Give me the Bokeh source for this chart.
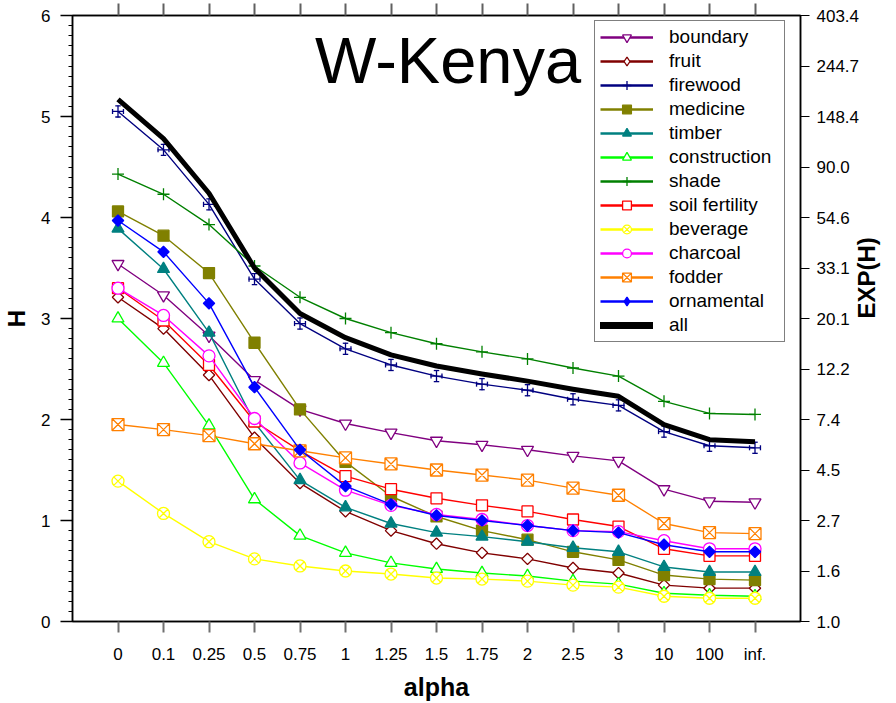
import numpy as np
from bokeh.plotting import figure
from bokeh.models import (LinearAxis, FixedTicker, SingleIntervalTicker, CustomJSTickFormatter,
                          Label, Legend, LegendItem, ColumnDataSource)
from bokeh.embed import file_html
from bokeh.resources import INLINE

categories = ["0", "0.1", "0.25", "0.5", "0.75", "1", "1.25", "1.5", "1.75", "2",
              "2.5", "3", "10", "100", "inf."]
exp_ticks = [0, 0.5, 1, 1.5, 2, 2.5, 3, 3.5, 4, 4.5, 5, 5.5, 6]
exp_labels = ["1.0", "1.6", "2.7", "4.5", "7.4", "12.2", "20.1", "33.1", "54.6",
              "90.0", "148.4", "244.7", "403.4"]

boundary = [3.54, 3.23, 2.83, 2.39, 2.10, 1.96, 1.87, 1.79, 1.75, 1.70, 1.64, 1.59, 1.31, 1.19, 1.18]
fruit = [3.21, 2.90, 2.44, 1.82, 1.37, 1.09, 0.90, 0.77, 0.68, 0.62, 0.53, 0.48, 0.36, 0.33, 0.33]
firewood = [5.05, 4.67, 4.13, 3.39, 2.95, 2.70, 2.54, 2.43, 2.35, 2.29, 2.20, 2.14, 1.88, 1.74, 1.72]
medicine = [4.06, 3.82, 3.45, 2.76, 2.10, 1.58, 1.24, 1.04, 0.90, 0.81, 0.69, 0.61, 0.46, 0.42, 0.41]
timber = [3.89, 3.49, 2.86, 1.97, 1.40, 1.13, 0.97, 0.88, 0.84, 0.79, 0.73, 0.69, 0.54, 0.49, 0.49]
construction = [3.00, 2.56, 1.94, 1.21, 0.85, 0.68, 0.58, 0.52, 0.48, 0.45, 0.40, 0.37, 0.28, 0.26, 0.25]
shade = [4.43, 4.23, 3.93, 3.52, 3.21, 3.00, 2.86, 2.75, 2.67, 2.60, 2.51, 2.43, 2.18, 2.06, 2.05]
soil_fertility = [3.30, 2.98, 2.54, 1.98, 1.69, 1.44, 1.31, 1.22, 1.15, 1.09, 1.01, 0.94, 0.72, 0.65, 0.65]
beverage = [1.39, 1.07, 0.79, 0.62, 0.55, 0.50, 0.47, 0.43, 0.42, 0.40, 0.36, 0.34, 0.25, 0.23, 0.23]
charcoal = [3.30, 3.03, 2.63, 2.01, 1.57, 1.30, 1.15, 1.06, 1.01, 0.95, 0.90, 0.89, 0.80, 0.72, 0.72]
fodder = [1.95, 1.90, 1.84, 1.76, 1.69, 1.62, 1.56, 1.50, 1.45, 1.40, 1.32, 1.25, 0.97, 0.88, 0.87]
ornamental = [3.97, 3.66, 3.15, 2.32, 1.70, 1.34, 1.16, 1.05, 1.00, 0.95, 0.90, 0.88, 0.76, 0.69, 0.69]
all_uses = [5.17, 4.78, 4.24, 3.50, 3.05, 2.81, 2.64, 2.53, 2.45, 2.38, 2.30, 2.23, 1.95, 1.80, 1.78]

# name, values, color, marker, filled
series = [
    ("boundary", boundary, "#800080", "inverted_triangle", False),
    ("fruit", fruit, "#800000", "diamond", False),
    ("firewood", firewood, "#000080", "cross", False),
    ("medicine", medicine, "#808000", "square", True),
    ("timber", timber, "#008080", "triangle", True),
    ("construction", construction, "#00FF00", "triangle", False),
    ("shade", shade, "#008000", "cross", False),
    ("soil fertility", soil_fertility, "#FF0000", "square", False),
    ("beverage", beverage, "#FFFF00", "circle_x", False),
    ("charcoal", charcoal, "#FF00FF", "circle", False),
    ("fodder", fodder, "#FF8000", "square_x", False),
    ("ornamental", ornamental, "#0000FF", "diamond", True),
]
sizes = {"inverted_triangle": 12, "diamond": 8, "cross": 12, "square": 11, "triangle": 12,
         "circle_x": 12, "circle": 12, "square_x": 12}

FONT = "Liberation Sans"
x = np.arange(len(categories))

p = figure(width=896, height=703, x_range=(-1, 15), y_range=(0, 6),
           output_backend="svg", toolbar_location=None,
           min_border_left=72, min_border_right=88, min_border_top=15, min_border_bottom=81)
p.grid.visible = False
p.outline_line_color = "black"
p.outline_line_width = 1.5
p.background_fill_color = "white"
p.border_fill_color = "white"

# bottom axis
xa = p.xaxis[0]
xa.ticker = FixedTicker(ticks=list(x), minor_ticks=[])
xa.major_label_overrides = {int(i): c for i, c in zip(x, categories)}
xa.major_tick_out = 11
xa.major_tick_in = 0
xa.major_tick_line_color = "#707070"
xa.major_tick_line_width = 2
xa.axis_line_color = "black"
xa.axis_line_width = 1.5
xa.major_label_text_font = FONT
xa.major_label_text_font_size = "17px"
xa.major_label_text_color = "black"
xa.major_label_standoff = 12
xa.axis_label = "alpha"
xa.axis_label_text_font = FONT
xa.axis_label_text_font_style = "bold"
xa.axis_label_text_font_size = "25px"
xa.axis_label_text_color = "black"
xa.axis_label_standoff = 6

# left axis
ya = p.yaxis[0]
ya.ticker = SingleIntervalTicker(interval=1, num_minor_ticks=10)
ya.major_tick_out = 12
ya.major_tick_in = 0
ya.minor_tick_out = 4
ya.minor_tick_in = 0
ya.major_tick_line_color = "black"
ya.minor_tick_line_color = "black"
ya.major_tick_line_width = 1.5
ya.minor_tick_line_width = 1.2
ya.axis_line_color = "black"
ya.axis_line_width = 1.5
ya.major_label_text_font = FONT
ya.major_label_text_font_size = "17px"
ya.major_label_text_color = "black"
ya.major_label_standoff = 10
ya.axis_label = "H"
ya.axis_label_text_font = FONT
ya.axis_label_text_font_style = "bold"
ya.axis_label_text_font_size = "24px"
ya.axis_label_text_color = "black"
ya.axis_label_standoff = 8

# right axis
ra = LinearAxis(ticker=FixedTicker(ticks=exp_ticks, minor_ticks=[]),
                formatter=CustomJSTickFormatter(args=dict(labels=exp_labels),
                                                code="return labels[Math.round(tick*2)];"))
ra.major_tick_out = 9
ra.major_tick_in = 0
ra.major_tick_line_color = "black"
ra.major_tick_line_width = 1.2
ra.axis_line_color = "black"
ra.axis_line_width = 1.5
ra.major_label_text_font = FONT
ra.major_label_text_font_size = "17px"
ra.major_label_text_color = "black"
ra.major_label_standoff = 7
ra.axis_label = "EXP(H)"
ra.axis_label_text_font = FONT
ra.axis_label_text_font_style = "bold"
ra.axis_label_text_font_size = "24px"
ra.axis_label_text_color = "black"
ra.axis_label_standoff = 4
if "axis_label_orientation" in ra.properties():
    ra.axis_label_orientation = np.pi / 2
p.add_layout(ra, "right")

# top axis: category ticks only (drawn as minor ticks, no labels)
ta = LinearAxis(ticker=FixedTicker(ticks=[], minor_ticks=list(x)))
ta.major_tick_out = 0
ta.major_tick_in = 0
ta.minor_tick_out = 12
ta.minor_tick_in = 0
ta.minor_tick_line_color = "#606060"
ta.minor_tick_line_width = 2
ta.axis_line_color = "black"
ta.axis_line_width = 1.5
ta.major_label_standoff = 0
p.add_layout(ta, "above")

items = []
for name, vals, color, marker, filled in series:
    src = ColumnDataSource(dict(x=x, y=vals))
    p.line("x", "y", source=src, line_color=color, line_width=1.4)
    fill = color if filled else "white"
    if marker == "diamond":
        p.scatter("x", "y", source=src, marker="square", angle=np.pi / 4, size=sizes[marker],
                  line_color=color, fill_color=fill, line_width=1.3)
    else:
        p.scatter("x", "y", source=src, marker=marker, size=sizes[marker],
                  line_color=color, fill_color=fill, line_width=1.3)
    if name == "firewood":
        v = np.array(vals)
        p.segment(x0=x - 0.06, y0=v + 0.055, x1=x + 0.06, y1=v + 0.055, line_color=color, line_width=1.3)
        p.segment(x0=x - 0.06, y0=v - 0.055, x1=x + 0.06, y1=v - 0.055, line_color=color, line_width=1.3)
        p.segment(x0=x - 0.12, y0=v - 0.025, x1=x - 0.12, y1=v + 0.025, line_color=color, line_width=1.3)
        p.segment(x0=x + 0.12, y0=v - 0.025, x1=x + 0.12, y1=v + 0.025, line_color=color, line_width=1.3)
    # hidden legend proxies: thicker line, upright diamond as in the reference legend
    lg_line = p.line("x", "y", source=src, line_color=color, line_width=2.5, visible=False)
    lg_marker = "diamond" if marker == "diamond" else marker
    lg_size = 15 if marker == "diamond" else sizes[marker]
    lg_mark = p.scatter("x", "y", source=src, marker=lg_marker, size=lg_size,
                        line_color=color, fill_color=fill, line_width=1.3, visible=False)
    items.append(LegendItem(label=name, renderers=[lg_line, lg_mark]))

src_all = ColumnDataSource(dict(x=x, y=all_uses))
p.line("x", "y", source=src_all, line_color="black", line_width=5, line_join="round")
lg_all = p.line("x", "y", source=src_all, line_color="black", line_width=7, line_cap="round",
                visible=False)
items.append(LegendItem(label="all", renderers=[lg_all]))

legend = Legend(items=items, location=(522, 279), glyph_width=53, glyph_height=22,
                label_height=22, label_width=110, spacing=2, padding=5, label_standoff=16,
                label_text_font=FONT, label_text_font_size="19px", label_text_color="black",
                border_line_color="black", border_line_width=1.2, background_fill_color="white",
                background_fill_alpha=1.0, margin=0, inactive_fill_alpha=0.0)
p.add_layout(legend)

title = Label(x=4.33, y=5.55, text="W-Kenya", text_font=FONT, text_font_size="65px",
              text_color="black", text_baseline="alphabetic", text_align="left")
p.add_layout(title)

open("out.html", "w").write(file_html(p, INLINE))
